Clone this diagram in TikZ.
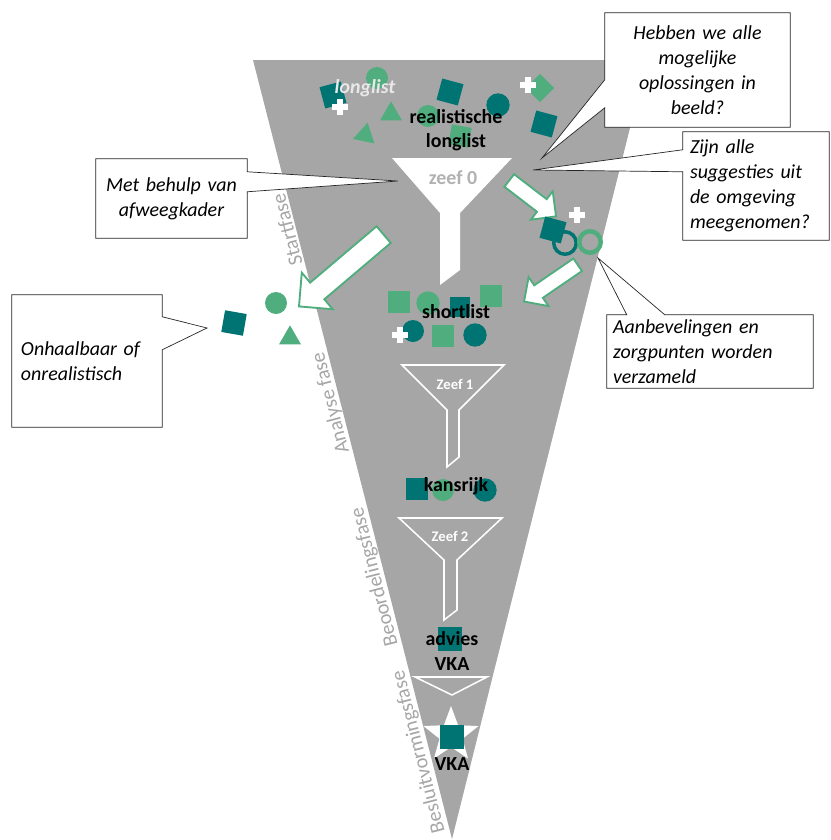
\documentclass[tikz,border=0pt]{standalone}
\usepackage{fontspec}
\setmainfont{Carlito}
\usetikzlibrary{shapes.geometric, shapes.arrows, calc}
\definecolor{xTeal}{RGB}{0,116,114}
\definecolor{xGreen}{RGB}{80,174,126}
\definecolor{xGrey}{RGB}{166,166,166}
\definecolor{xPale}{RGB}{232,232,232}
\definecolor{xSieve}{RGB}{178,178,178}
\pgfdeclarelayer{back}
\pgfsetlayers{back,main}
\tikzset{
  callbox/.style={font=\itshape\fontsize{17}{21.3}\selectfont, inner ysep=0pt},
  callline/.style={draw=black!85, fill=white, line width=0.6pt, line join=miter},
  phase/.style={text=xGrey, font=\fontsize{17.5}{21}\selectfont, rotate=104.3, inner sep=0pt},
  stage/.style={font=\bfseries\fontsize{17}{20.5}\selectfont, align=center, inner sep=0pt},
  zeeflbl/.style={font=\bfseries\fontsize{12.5}{15}\selectfont, text=white, inner sep=0pt},
  sieve/.style={draw=white, line width=1.3pt, line join=miter},
  sqT/.style={fill=xTeal, minimum size=6.6mm, inner sep=0pt},
  sqG/.style={fill=xGreen, minimum size=6.6mm, inner sep=0pt},
  dotT/.style={circle, fill=xTeal, minimum size=7mm, inner sep=0pt},
  dotG/.style={circle, fill=xGreen, minimum size=6.6mm, inner sep=0pt},
  triG/.style={regular polygon, regular polygon sides=3, fill=xGreen, minimum size=7.6mm, inner sep=0pt},
  ringT/.style={circle, draw=xTeal, line width=3pt, minimum size=6.75mm, inner sep=0pt},
  ringG/.style={circle, draw=xGreen, line width=3.8pt, minimum size=6.45mm, inner sep=0pt},
  blockarrow/.style={single arrow, draw=xGreen, fill=white, line width=1.6pt, inner xsep=0pt, single arrow head indent=0pt},
  plussign/.pic={\fill[white] (-8,-2.6) rectangle (8,2.6); \fill[white] (-2.6,-8) rectangle (2.6,8);},
}

\begin{document}
\begin{tikzpicture}[x=0.3mm, y=-0.3mm]
  \useasboundingbox (0,0) rectangle (831,840);

  % the big funnel
  \begin{pgfonlayer}{back}
    \fill[xGrey] (253,60) -- (647,60) -- (452,839) -- cycle;
  \end{pgfonlayer}

  % sieves
  \fill[white] (392,158) -- (512,158) -- (460,213) -- (460,270) -- (440,285) -- (440,213) -- cycle;
  \draw[sieve] (402,365) -- (504,365) -- (459,410) -- (459,457) -- (447,467) -- (447,410) -- cycle;
  \draw[sieve] (399,518) -- (502,518) -- (457,560) -- (457,610) -- (444,620) -- (444,560) -- cycle;
  \draw[sieve] (415,677) -- (487,677) -- (452,695) -- cycle;
  \node[zeeflbl, text=xSieve, font=\bfseries\fontsize{17}{20}\selectfont] (z0) at (453,178) {zeef 0};
  \node[zeeflbl] (z1) at (455,384) {Zeef 1};
  \node[zeeflbl] (z2) at (450,536) {Zeef 2};

  % longlist
  \node[sqT, rotate=15] (l1) at (333,95) {};
  \pic at (340,107) {plussign};
  \node[dotG] (l2) at (377,78) {};
  \node[triG] (l3) at (391,114) {};
  \node[triG, rotate=-12] (l4) at (365,135) {};
  \node[sqT, rotate=-15] (l5) at (450,92) {};
  \node[dotT] (l6) at (498,105) {};
  \node[dotG] (l7) at (428,116) {};
  \node[sqG, minimum size=6mm, rotate=-10] (l8) at (460,136) {};
  \node[sqG, minimum size=6mm, rotate=45] (l9) at (540,88) {};
  \pic at (528,85) {plussign};
  \node[sqT, rotate=-15] (l10) at (544,124) {};
  \node[stage, text=xPale, font=\bfseries\itshape\fontsize{17}{20.5}\selectfont] (ll) at (365,88) {longlist};
  \node[stage] (rl) at (456,130) {realistische\\longlist};

  % suggestions from outside
  \node[blockarrow, inner ysep=2.1mm, single arrow head extend=3mm, minimum height=17.7mm, rotate=-37.5] (toSugg) at (529.5,196) {};
  \node[sqT, rotate=-15] (g1) at (553,230) {};
  \pic at (577,215) {plussign};
  \node[ringT] (g2) at (565,243) {};
  \node[ringG] (g3) at (590,242) {};
  \node[blockarrow, inner ysep=2mm, single arrow head extend=3mm, minimum height=19.5mm, rotate=214.4] (fromSugg) at (554,281) {};

  % dropped out
  \node[blockarrow, inner ysep=3mm, single arrow head extend=3.9mm, minimum height=33.3mm, rotate=220.3] (toOut) at (345.5,267) {};
  \node[sqT, rotate=-10] (o1) at (234,323) {};
  \node[dotG] (o2) at (276,303) {};
  \node[triG] (o3) at (290,338) {};

  % shortlist
  \node[sqG] (s1) at (399,302) {};
  \node[dotG, minimum size=7mm] (s2) at (428,303) {};
  \node[sqT, minimum size=6mm] (s3) at (460,307) {};
  \node[sqG] (s4) at (491,296) {};
  \node[dotT, minimum size=6.6mm] (s5) at (413,331) {};
  \pic at (400,335) {plussign};
  \node[sqG] (s6) at (443,336) {};
  \node[dotT] (s7) at (475,335) {};
  \node[stage] (sl) at (456,312) {shortlist};

  % kansrijk
  \node[sqT] (k1) at (417,489) {};
  \node[dotG] (k2) at (443,490) {};
  \node[dotT] (k3) at (485,490) {};
  \node[stage] (kr) at (456,486) {kansrijk};

  % advies and VKA
  \node[sqT, minimum size=7mm] (a1) at (450,639) {};
  \node[stage] (av) at (452,651) {advies\\VKA};
  \node[star, star points=5, star point ratio=2.4, fill=white, minimum size=17.4mm, inner sep=0pt] (vkaStar) at (451,735) {};
  \node[sqT, minimum size=7mm] (a2) at (452,737) {};
  \node[stage] (vka) at (452,764) {VKA};

  % phases
  \node[phase] (pStart) at (287,230) {Startfase};
  \node[phase] (pAnal) at (331,403) {Analyse fase};
  \node[phase] (pBeoor) at (375,577) {Beoordelingsfase};
  \node[phase] (pBesl) at (419,752) {Besluitvormingsfase};

  % callouts
  \node[callbox, align=center, inner xsep=1.8mm, text width=51.9mm, minimum height=34.2mm] (hb) at (697.5,70)
    {Hebben we alle\\mogelijke\\oplossingen in\\beeld?};
  \node[callbox, align=left, inner xsep=2.1mm, text width=39.6mm, minimum height=32.4mm] (zj) at (756,186)
    {Zijn alle\\suggesties uit\\de omgeving\\meegenomen?};
  \node[callbox, align=center, inner xsep=1.8mm, text width=41.7mm, minimum height=23.7mm] (mb) at (171.5,198.5)
    {Met behulp van\\afweegkader};
  \node[callbox, align=left, inner xsep=2.7mm, text width=39.6mm, minimum height=39.6mm] (oh) at (87,361)
    {Onhaalbaar of\\onrealistisch};
  \node[callbox, align=left, inner xsep=1.8mm, text width=58.2mm, minimum height=21.9mm] (ab) at (710,351.5)
    {Aanbevelingen en\\zorgpunten worden\\verzameld};
  \coordinate (hbTip) at (542,158);
  \coordinate (zjTip) at (533,170);
  \coordinate (mbTip) at (398,181);
  \coordinate (ohTip) at (207,328);
  \coordinate (abTip) at (598,258);
  \begin{pgfonlayer}{back}
    \draw[callline] (hb.north west) -- (hb.north east) -- (hb.south east) -- (hb.south west)
      -- ($(hb.north west)+(0,95)$) -- (hbTip) -- ($(hb.north west)+(0,67)$) -- cycle;
    \draw[callline] (zj.north west) -- (zj.north east) -- (zj.south east) -- (zj.south west)
      -- ($(zj.north west)+(0,40)$) -- (zjTip) -- ($(zj.north west)+(0,18)$) -- cycle;
    \draw[callline] (mb.north west) -- (mb.north east) -- ($(mb.north east)+(0,13)$) -- (mbTip)
      -- ($(mb.north east)+(0,33)$) -- (mb.south east) -- (mb.south west) -- cycle;
    \draw[callline] (oh.north west) -- (oh.north east) -- ($(oh.north east)+(0,22)$) -- (ohTip)
      -- ($(oh.north east)+(0,55)$) -- (oh.south east) -- (oh.south west) -- cycle;
    \draw[callline] (ab.north west) -- ($(ab.north west)+(20,0)$) -- (abTip) -- ($(ab.north west)+(58,0)$)
      -- (ab.north east) -- (ab.south east) -- (ab.south west) -- cycle;
  \end{pgfonlayer}
\end{tikzpicture}
\end{document}
